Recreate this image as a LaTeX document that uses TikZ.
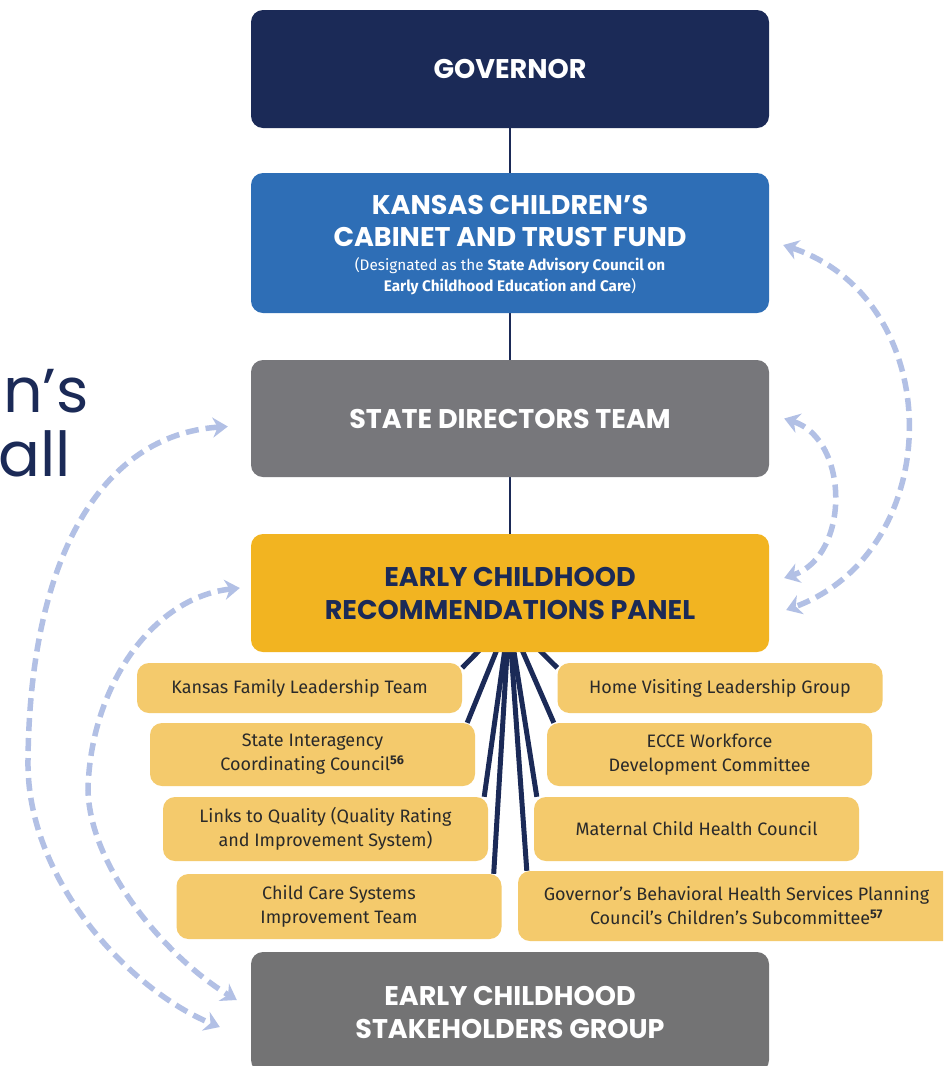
\documentclass[tikz,border=0pt]{standalone}
\usepackage{fontspec}
\setmainfont{Fira Sans}
\newfontfamily\headfont{Poppins}
\usetikzlibrary{arrows.meta,backgrounds,calc}
\definecolor{navy}{HTML}{1B2A57}
\definecolor{cabblue}{HTML}{2E6EB6}
\definecolor{grayb}{HTML}{77777B}
\definecolor{stakegray}{HTML}{737374}
\definecolor{panelgold}{HTML}{F2B421}
\definecolor{subgold}{HTML}{F4CA6C}
\definecolor{subtext}{HTML}{2A2A2A}
\definecolor{arrowc}{HTML}{B2C0E5}
\begin{document}
\begin{tikzpicture}[x=1pt,y=-1pt,
  mainbox/.style={rounded corners=12pt, minimum width=518pt, inner sep=0pt, text=white,
    font=\headfont\bfseries\fontsize{27}{33}\selectfont, align=center},
  subbox/.style={rounded corners=12pt, fill=subgold, minimum width=325pt, inner sep=0pt,
    text=subtext, font=\fontsize{18}{24}\selectfont, align=center},
  vline/.style={draw=navy, line width=2.5pt},
  fanline/.style={draw=navy, line width=5pt},
  darrow/.style={draw=arrowc, line width=5.5pt, dash pattern=on 13pt off 7pt,
    {Stealth[length=15pt,width=20pt]}-{Stealth[length=15pt,width=20pt]}},
  sidetext/.style={anchor=base west, inner sep=0pt, text=navy, font=\headfont\fontsize{62}{62}\selectfont}
]
\useasboundingbox (0,0) rectangle (943,1066);
\clip (0,0) rectangle (943,1066);

% side text
\node[sidetext] (t1) at (3,412) {n’s};
\node[sidetext] (t2) at (-2,476) {all};

% main boxes
\node[mainbox, fill=navy, minimum height=118pt] (gov) at (510,69) {GOVERNOR};
\node[mainbox, fill=cabblue, minimum height=140pt] (cab) at (510,243) {};
\node[inner sep=0pt, text=white, font=\headfont\bfseries\fontsize{27}{32}\selectfont, align=center] (cabt) at (510,221) {KANSAS CHILDREN’S\\CABINET AND TRUST FUND};
\node[inner sep=0pt, text=white, font=\fontsize{15.3}{21}\selectfont, align=center] (cabs) at (510,276) {(Designated as the \textbf{State Advisory Council on}\\\textbf{Early Childhood Education and Care})};
\node[mainbox, fill=grayb, minimum height=117pt] (sdt) at (510,418.5) {STATE DIRECTORS TEAM};
\node[mainbox, fill=panelgold, text=navy, minimum height=118pt] (pan) at (510,593) {EARLY CHILDHOOD\\RECOMMENDATIONS PANEL};
\node[mainbox, fill=stakegray, minimum height=120pt] (stk) at (510,1012) {EARLY CHILDHOOD\\STAKEHOLDERS GROUP};

% sub boxes left
\node[subbox, minimum height=50pt] (l1) at (299.5,688) {Kansas Family Leadership Team};
\node[subbox, minimum height=63pt] (l2) at (312.5,754.5) {State Interagency\\Coordinating Council\textsuperscript{\textbf{56}}};
\node[subbox, minimum height=64pt] (l3) at (325.5,829) {Links to Quality (Quality Rating\\and Improvement System)};
\node[subbox, minimum height=65pt] (l4) at (339,906.5) {Child Care Systems\\Improvement Team};
% sub boxes right
\node[subbox, minimum height=50pt] (r1) at (720,688) {Home Visiting Leadership Group};
\node[subbox, minimum height=63pt] (r2) at (709.5,754.5) {ECCE Workforce\\Development Committee};
\node[subbox, minimum height=64pt] (r3) at (696.5,829) {Maternal Child Health Council};
\node[subbox, minimum height=70pt, minimum width=437pt] (r4) at (736.5,906) {Governor’s Behavioral Health Services Planning\\Council’s Children’s Subcommittee\textsuperscript{\textbf{57}}};

\begin{pgfonlayer}{background}
  \fill[white] (0,0) rectangle (943,1066);
  \draw[vline] (gov.south) -- (cab.north);
  \draw[vline] (cab.south) -- (sdt.north);
  \draw[vline] (sdt.south) -- (pan.north);
  \coordinate (fan) at (509,620);
  \draw[fanline] (fan) -- ([yshift=-5pt]l1.north east);
  \draw[fanline] (fan) -- ([xshift=-8pt]l2.north east);
  \draw[fanline] (fan) -- ([xshift=-4pt]l3.north east);
  \draw[fanline] (fan) -- ([xshift=-8pt]l4.north east);
  \draw[fanline] (fan) -- ([yshift=-5pt]r1.north west);
  \draw[fanline] (fan) -- ([xshift=7pt]r2.north west);
  \draw[fanline] (fan) -- ([xshift=3pt]r3.north west);
  \draw[fanline] (fan) -- ([xshift=9pt]r4.north west);
\end{pgfonlayer}

% dashed arrows
\coordinate (cabR) at ([xshift=14pt,yshift=-2pt]cab.east);
\coordinate (panR2) at ([xshift=17pt,yshift=-17pt]pan.east);
\coordinate (sdtR) at ([xshift=15pt]sdt.east);
\coordinate (panR1) at ([xshift=15pt,yshift=15pt]pan.east);
\coordinate (sdtL) at ([xshift=-23pt,yshift=-8pt]sdt.west);
\coordinate (stkL2) at ([xshift=-31pt,yshift=-15pt]stk.west);
\coordinate (panL) at ([xshift=-11pt,yshift=5pt]pan.west);
\coordinate (stkL1) at ([xshift=-14pt,yshift=12pt]stk.west);

\draw[darrow] (cabR) .. controls (948,300) and (948,550) .. (panR2);
\draw[darrow] (sdtR) .. controls (850,440) and (850,556) .. (panR1);
\draw[darrow] (sdtL) .. controls (100,435) and (30,560) .. (28,760) .. controls (26,880) and (130,990) .. (stkL2);
\draw[darrow] (panL) .. controls (150,598) and (90,690) .. (88,790) .. controls (90,870) and (170,960) .. (stkL1);
\end{tikzpicture}
\end{document}
